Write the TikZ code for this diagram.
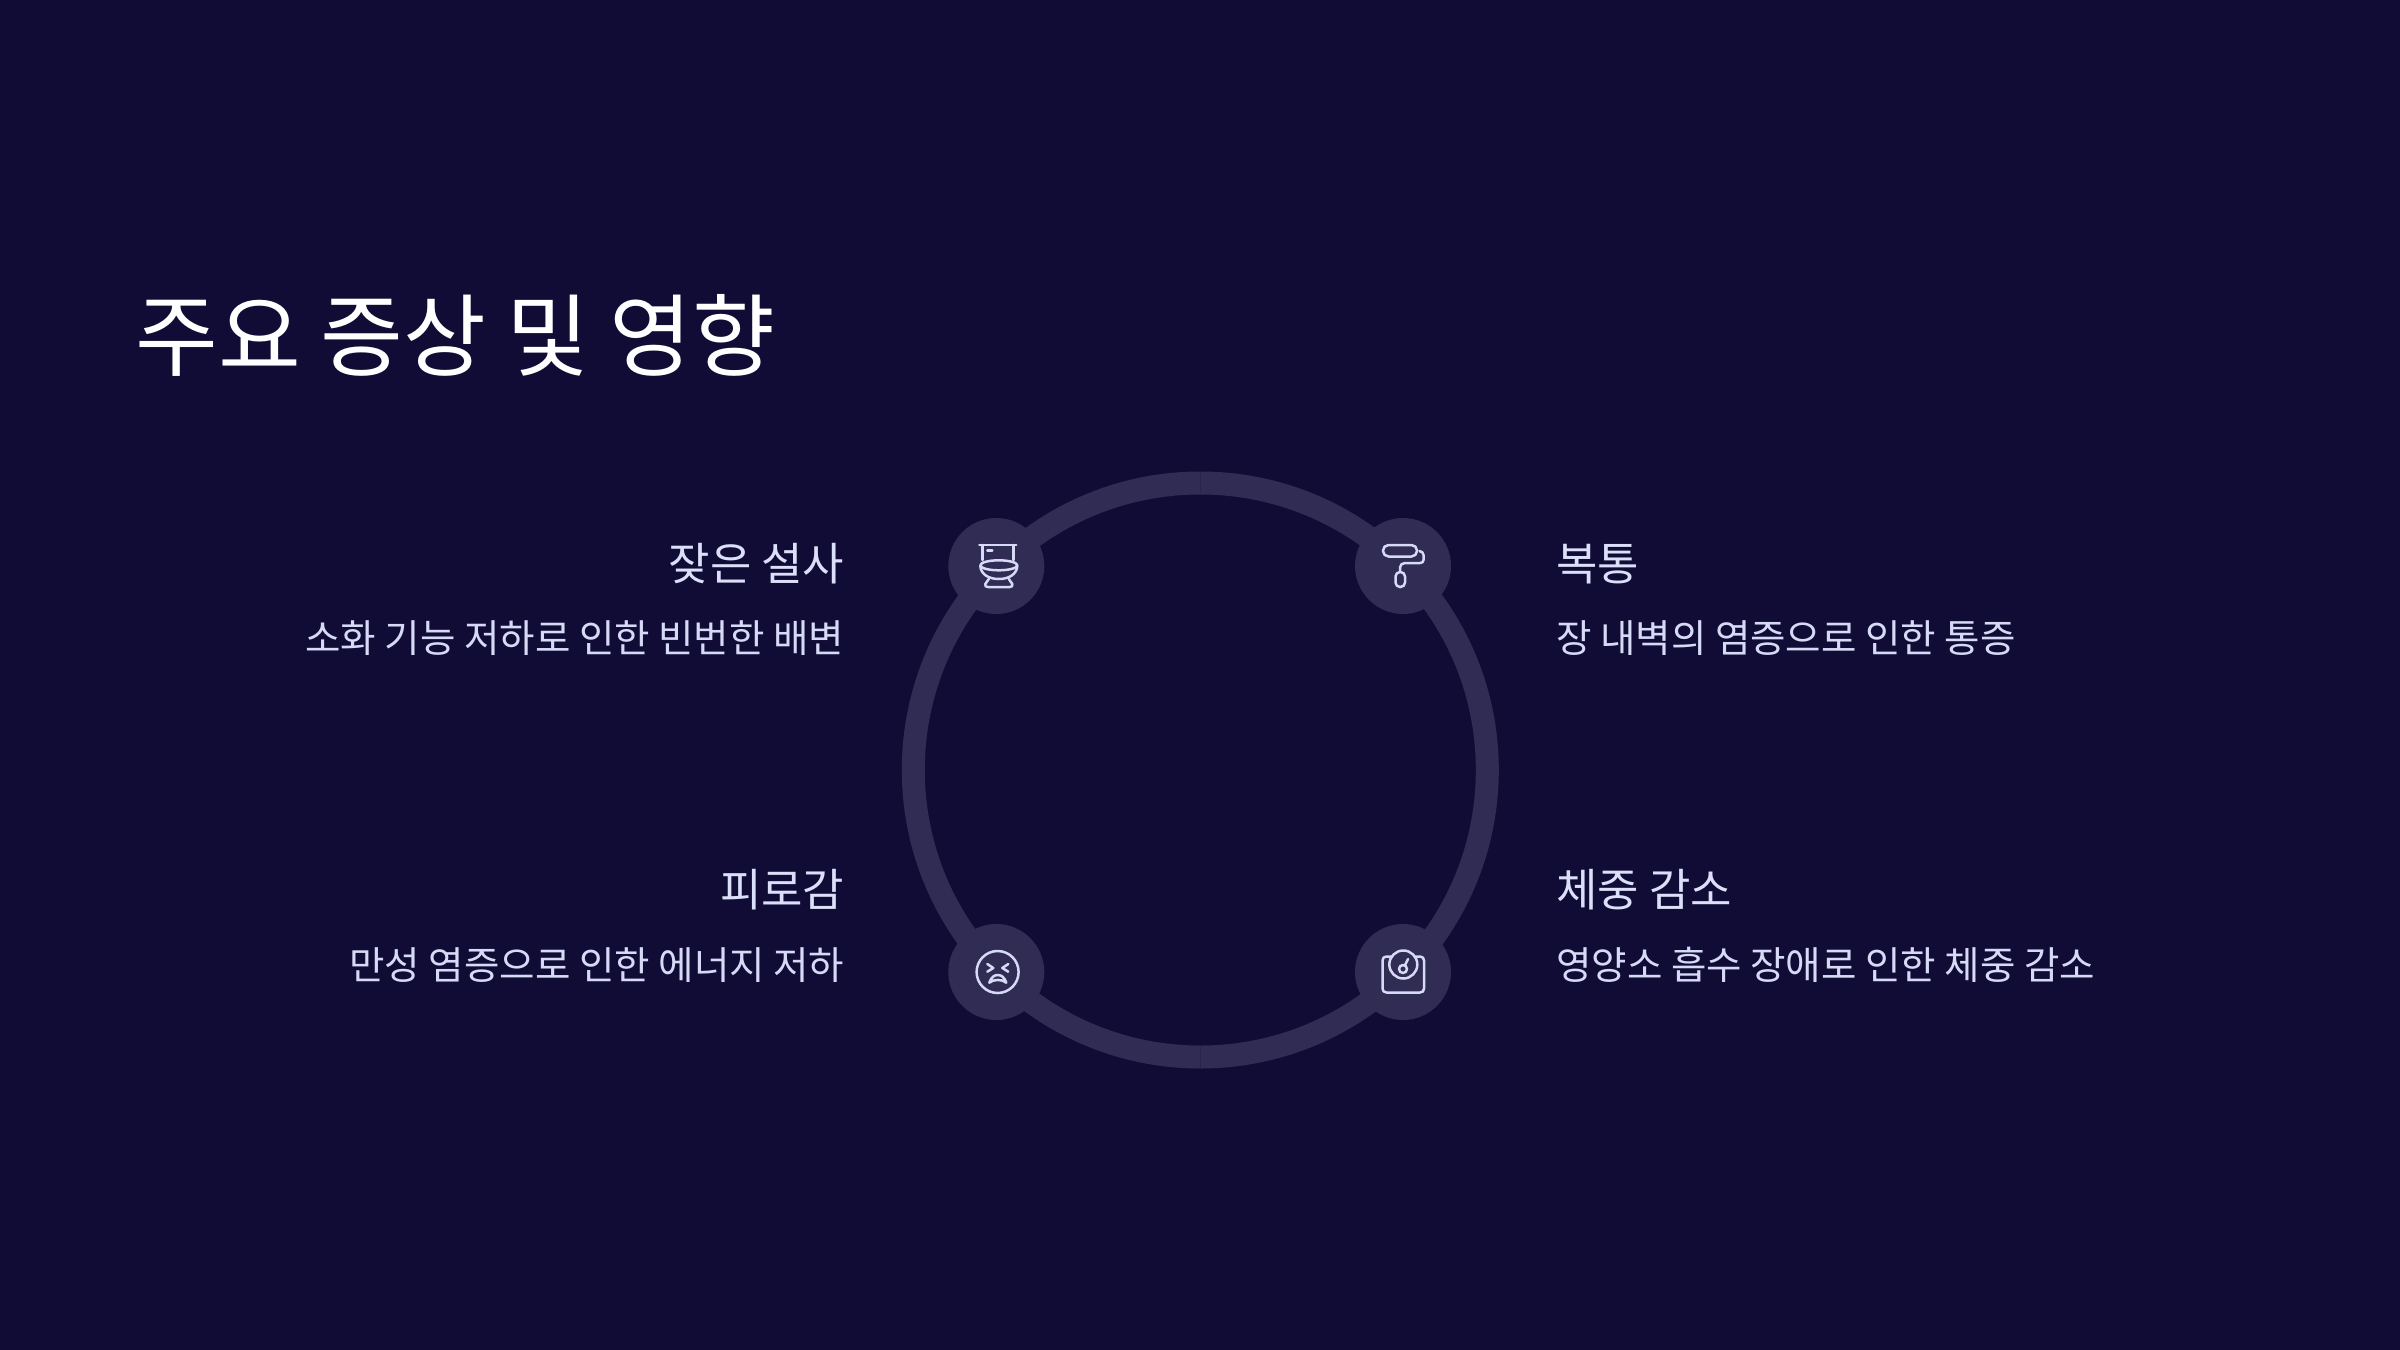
\documentclass[tikz,border=0pt]{standalone}
\usepackage{fontspec}
\setmainfont{Noto Sans CJK KR}
\definecolor{bgc}{HTML}{100C36}
\definecolor{ringc}{HTML}{302C54}
\definecolor{iconc}{HTML}{D7DAF6}
\definecolor{headc}{HTML}{DCDFF9}
\definecolor{subc}{HTML}{D7DAF6}
\tikzset{
  ringarc/.style={draw=ringc,line width=23bp},
  badge/.style={circle,fill=ringc,minimum size=96bp,inner sep=0pt,draw=none},
  ico/.style={draw=iconc,line width=2.5bp,line cap=round,line join=round},
  titletxt/.style={text=white,font=\fontsize{90bp}{96bp}\selectfont,anchor=base west,inner sep=0pt},
  headr/.style={text=headc,font=\fontsize{45bp}{50bp}\selectfont,anchor=base east,inner sep=0pt},
  headl/.style={text=headc,font=\fontsize{45bp}{50bp}\selectfont,anchor=base west,inner sep=0pt},
  subr/.style={text=subc,font=\fontsize{38.5bp}{44bp}\selectfont,anchor=base east,inner sep=0pt},
  subl/.style={text=subc,font=\fontsize{38.5bp}{44bp}\selectfont,anchor=base west,inner sep=0pt},
}
\begin{document}
\begin{tikzpicture}[x=1bp,y=-1bp]
\useasboundingbox (0,0) rectangle (2400,1350);
\fill[bgc] (-5,-5) rectangle (2405,1355);
\coordinate (cc) at (1200.3,770);
\draw[ringarc] (1200.3,483) arc[start angle=90,end angle=0,radius=287bp];
\draw[ringarc] (1487.3,770) arc[start angle=0,end angle=-90,radius=287bp];
\draw[ringarc] (1200.3,1057) arc[start angle=-90,end angle=-180,radius=287bp];
\draw[ringarc] (913.3,770) arc[start angle=180,end angle=90,radius=287bp];
\node[badge] (tl) at (996.3,566) {};
\node[badge] (tr) at (1403,566) {};
\node[badge] (bl) at (996.3,972) {};
\node[badge] (br) at (1403,972) {};
% toilet
\begin{scope}[shift={(tl.center)},ico]
\draw (-17,-21) -- (20,-21);
\draw (-14,-21) -- (-14,-6);
\draw (17,-21) -- (17,-6);
\draw (-9,-15.5) -- (-4,-15.5);
\draw (2.5,-0.7) ellipse[x radius=18.5,y radius=5];
\draw (-16,0) .. controls (-15.5,8) and (-8,13) .. (2.5,13) .. controls (13,13) and (20.5,8) .. (21,0);
\draw (-7.5,13) -- (-11,18) .. controls (-11.5,20) and (-10.5,21) .. (-8.5,21) -- (13.5,21) .. controls (15.5,21) and (16.5,20) .. (16,18) -- (12.5,13);
\end{scope}
% roller
\begin{scope}[shift={(tr.center)},ico]
\draw[rounded corners=5.5bp] (-20,-21) rectangle (14,-9.5);
\draw (16.5,-15) .. controls (19,-14.5) and (20.5,-13) .. (20.5,-11) -- (20.5,-6) .. controls (20.5,-4) and (19,-3) .. (17,-3) -- (2,-3) .. controls (-1,-3) and (-3,-1) .. (-3,1.5) -- (-3,5.5);
\draw[rounded corners=4.5bp] (-7.5,6) rectangle (2,21);
\end{scope}
% face
\begin{scope}[shift={(bl.center)},ico]
\draw (1.3,0) circle[radius=21];
\draw (-9,-8) -- (-3,-4) -- (-9,-0.3);
\draw (12,-8) -- (6,-4) -- (12,-0.3);
\draw (-7,10.7) .. controls (-5,5) and (-2,3) .. (1.5,3) .. controls (5,3) and (8,5) .. (10,10.7) .. controls (6,7) and (-3,7) .. (-7,10.7) -- cycle;
\end{scope}
% scale
\begin{scope}[shift={(br.center)},ico]
\draw (-11,-15.5) -- (-16.5,-15.5) .. controls (-19,-15.5) and (-20.5,-14) .. (-20.5,-11.5) -- (-20.5,16.5) .. controls (-20.5,19) and (-19,20.5) .. (-16.5,20.5) -- (17,20.5) .. controls (19.5,20.5) and (21,19) .. (21,16.5) -- (21,-11.5) .. controls (21,-14) and (19.5,-15.5) .. (17,-15.5) -- (12,-15.5);
\draw (0.3,-7.5) circle[radius=14];
\draw (0,-3) circle[radius=4];
\draw (2,-7) -- (5,-13);
\end{scope}
% texts
\node[titletxt] (title) at (135,369) {주요 증상 및 영향};
\node[headr] (h1) at (844.5,580) {잦은 설사};
\node[subr] (s1) at (844.5,652) {소화 기능 저하로 인한 빈번한 배변};
\node[headr] (h2) at (844.5,906.5) {피로감};
\node[subr] (s2) at (844.5,979.5) {만성 염증으로 인한 에너지 저하};
\node[headl] (h3) at (1556,580) {복통};
\node[subl] (s3) at (1556,652) {장 내벽의 염증으로 인한 통증};
\node[headl] (h4) at (1556,906.5) {체중 감소};
\node[subl] (s4) at (1556,979.5) {영양소 흡수 장애로 인한 체중 감소};
\end{tikzpicture}
\end{document}
